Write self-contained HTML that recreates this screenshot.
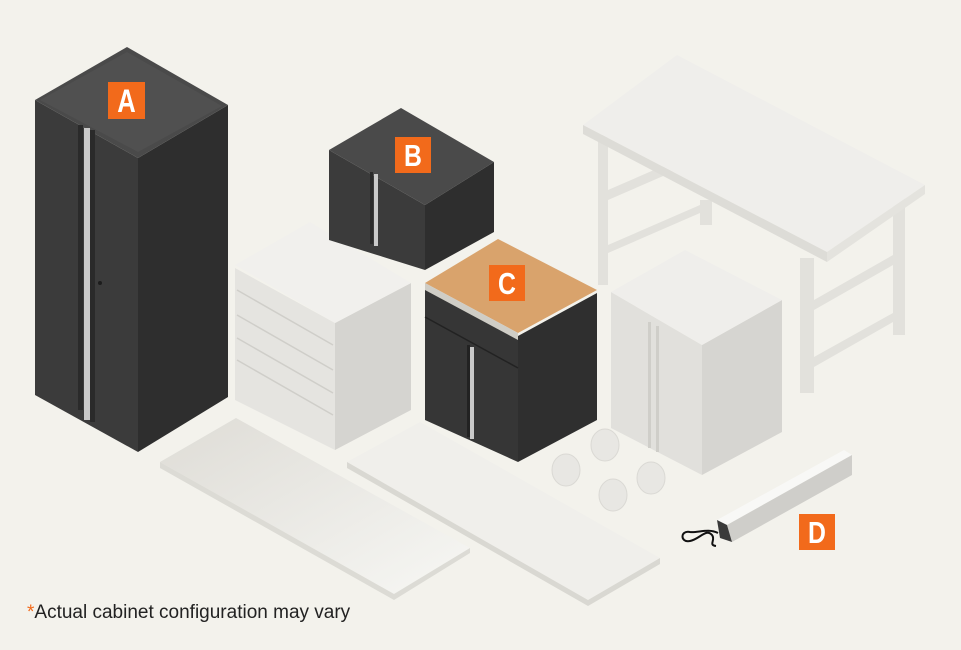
<!DOCTYPE html>
<html><head><meta charset="utf-8"><style>
html,body{margin:0;padding:0;background:#f3f2ec}
svg{display:block}
</style></head><body>
<svg width="961" height="650" viewBox="0 0 961 650" xmlns="http://www.w3.org/2000/svg">
<defs>
<linearGradient id="g1" x1="0" y1="0" x2="1" y2="1"><stop offset="0" stop-color="#dedcd6"/><stop offset="1" stop-color="#f7f7f4"/></linearGradient>
</defs>
<rect width="961" height="650" fill="#f3f2ec"/>

<!-- slabs -->
<polygon points="160,462 236,418 470,548 394,594" fill="url(#g1)"/>
<polygon points="394,594 470,548 470,553 394,600 160,468 160,462" fill="#dcdbd5"/>
<polygon points="347,462 420,422 660,558 588,600" fill="#f0efeb"/>
<polygon points="588,600 660,558 660,564 588,606 347,468 347,462" fill="#d9d8d2"/>

<!-- workbench -->
<g fill="#e2e1dc">
<rect x="598" y="135" width="10" height="150"/>
<rect x="700" y="200" width="12" height="25"/>
<polygon points="608,190 700,150 700,160 608,200"/>
<polygon points="608,245 700,205 700,213 608,253"/>
<rect x="800" y="258" width="14" height="135"/>
<rect x="893" y="190" width="12" height="145"/>
<polygon points="814,300 893,255 893,265 814,310"/>
<polygon points="814,357 893,313 893,322 814,367"/>
</g>
<polygon points="583,125 677,55 925,185 827,252" fill="#efeeeb"/>
<polygon points="583,125 827,252 827,262 583,134" fill="#dddcd7"/>
<polygon points="827,252 925,185 925,194 827,262" fill="#e4e3de"/>

<!-- white cabinet right -->
<polygon points="611,292 702,345 702,475 611,428" fill="#e1e0dc"/>
<polygon points="702,345 782,300 782,432 702,475" fill="#d6d5d1"/>
<polygon points="611,292 685,250 782,300 702,345" fill="#efeeeb"/>
<rect x="648" y="322" width="3" height="126" fill="#cfcec9"/>
<rect x="656" y="326" width="3" height="126" fill="#cfcec9"/>

<!-- drawer cabinet -->
<polygon points="235,268 335,323 335,450 235,400" fill="#e5e4e0"/>
<polygon points="335,323 411,283 411,410 335,450" fill="#d5d4d0"/>
<polygon points="235,265 310,222 411,283 335,323" fill="#f1f0ed"/>
<g stroke="#cfcec9" stroke-width="1.5">
<line x1="237" y1="290" x2="333" y2="345"/>
<line x1="237" y1="315" x2="333" y2="370"/>
<line x1="237" y1="338" x2="333" y2="393"/>
<line x1="237" y1="360" x2="333" y2="415"/>
</g>

<!-- cabinet A -->
<polygon points="35,100 138,158 138,452 35,395" fill="#3b3b3b"/>
<polygon points="138,158 228,105 228,397 138,452" fill="#2e2e2e"/>
<polygon points="35,100 127,47 228,105 138,158" fill="#4a4a4a"/>
<polygon points="40,100 127,52 222,106 138,152" fill="#505050"/>
<rect x="78" y="125" width="5" height="285" fill="#2a2a2a"/>
<rect x="84" y="128" width="6" height="292" fill="#c9c9c9"/>
<rect x="90" y="130" width="5" height="292" fill="#2a2a2a"/>
<circle cx="100" cy="283" r="2" fill="#1c1c1c"/>
<rect x="108" y="82" width="37" height="37" fill="#f26a1b"/>
<text x="0" y="0" transform="translate(126.5,112) scale(0.8,1)" font-family="Liberation Sans, sans-serif" font-weight="bold" font-size="32" fill="#fff" text-anchor="middle">A</text>

<!-- cabinet B -->
<polygon points="329,150 425,205 425,270 329,240" fill="#3b3b3b"/>
<polygon points="425,205 494,162 494,232 425,270" fill="#2e2e2e"/>
<polygon points="329,150 401,108 494,162 425,205" fill="#4a4a4a"/>
<rect x="370" y="172" width="3" height="72" fill="#2a2a2a"/>
<rect x="374" y="174" width="4" height="72" fill="#c9c9c9"/>
<rect x="395" y="137" width="36" height="36" fill="#f26a1b"/>
<text x="0" y="0" transform="translate(413,166) scale(0.8,1)" font-family="Liberation Sans, sans-serif" font-weight="bold" font-size="31" fill="#fff" text-anchor="middle">B</text>

<!-- cabinet C -->
<polygon points="425,288 518,336 518,462 425,420" fill="#363636"/>
<polygon points="518,336 597,293 597,420 518,462" fill="#2f2f2f"/>
<polygon points="425,283 498,239 597,290 518,333" fill="#d9a36c"/>
<polygon points="425,283 518,333 518,340 425,290" fill="#cfcdc6"/>
<line x1="425" y1="317" x2="518" y2="368" stroke="#222" stroke-width="1.5"/>
<rect x="467" y="345" width="3" height="92" fill="#222"/>
<rect x="470" y="347" width="4" height="92" fill="#c9c9c9"/>
<rect x="489" y="265" width="36" height="36" fill="#f26a1b"/>
<text x="0" y="0" transform="translate(507,294) scale(0.8,1)" font-family="Liberation Sans, sans-serif" font-weight="bold" font-size="31" fill="#fff" text-anchor="middle">C</text>

<!-- casters -->
<g fill="#e8e7e3" stroke="#dad9d4" stroke-width="1">
<ellipse cx="566" cy="470" rx="14" ry="16"/>
<ellipse cx="605" cy="445" rx="14" ry="16"/>
<ellipse cx="651" cy="478" rx="14" ry="16"/>
<ellipse cx="613" cy="495" rx="14" ry="16"/>
</g>

<!-- light strip D -->
<polygon points="717,520 844,450 852,455 727,525" fill="#f8f8f6"/>
<polygon points="727,525 852,455 852,475 732,542" fill="#cfceca"/>
<polygon points="717,520 727,525 732,542 720,538" fill="#3a3a3a"/>
<path d="M718,533 C708,528 698,533 690,532 C680,530 680,543 690,541 C700,539 706,528 712,535 C716,540 708,545 716,546" fill="none" stroke="#111" stroke-width="2"/>
<rect x="799" y="514" width="36" height="36" fill="#f26a1b"/>
<text x="0" y="0" transform="translate(817,543) scale(0.8,1)" font-family="Liberation Sans, sans-serif" font-weight="bold" font-size="31" fill="#fff" text-anchor="middle">D</text>

<text x="27" y="618" font-family="Liberation Sans, sans-serif" font-size="19" fill="#222"><tspan fill="#f26a1b">*</tspan>Actual cabinet configuration may vary</text>
</svg>
</body></html>
